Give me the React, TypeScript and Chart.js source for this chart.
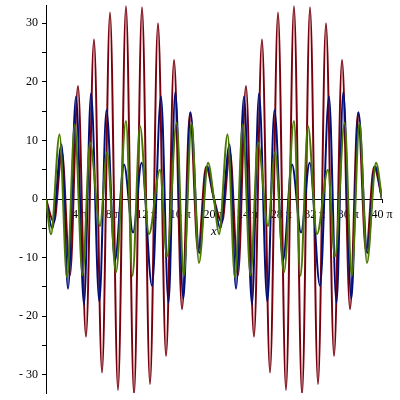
import { useEffect, useRef } from 'react';
import { Chart, registerables } from 'chart.js';

Chart.register(...registerables);

// x values are in units of π
const redX = [0, 0.95, 1.9, 2.86, 3.81, 4.76, 5.71, 6.67, 7.62, 8.57, 9.52, 10.48, 11.43, 12.38, 13.33, 14.29, 15.24, 16.19, 17.14, 18.1, 19.05, 20,
  20.95, 21.9, 22.86, 23.81, 24.76, 25.71, 26.67, 27.62, 28.57, 29.52, 30.48, 31.43, 32.38, 33.33, 34.29, 35.24, 36.19, 37.14, 38.1, 39.05, 40];
const redY = [0, -4, 8, -13, 19.3, -23.5, 27.2, -29.6, 31.8, -32.6, 32.9, -33.4, 32.7, -31.6, 30, -26.8, 23.7, -18.8, 14.7, -9, 5.5, 0,
  -4, 8, -13, 19.3, -23.5, 27.2, -29.6, 31.8, -32.6, 32.9, -33.4, 32.7, -31.6, 30, -26.8, 23.7, -18.8, 14.7, -9, 5.5, 0];

const blueX = [0, 0.75, 1.85, 2.62, 3.57, 4.52, 5.36, 6.35, 7.2, 8.21, 9.29, 10.36, 11.39, 12.62, 13.69, 14.58, 15.39, 16.35, 17.2, 18.25, 19.17, 20,
  20.75, 21.85, 22.62, 23.57, 24.52, 25.36, 26.35, 27.2, 28.21, 29.29, 30.36, 31.39, 32.62, 33.69, 34.58, 35.39, 36.35, 37.2, 38.25, 39.17, 40];
const blueY = [0, -5, 9.3, -15.3, 17.5, -18, 18, -17.5, 15.2, -10.5, 5.9, -5.7, 6.2, -14.8, 17.5, -17.7, 18.2, -17, 14.8, -9.2, 5.6, 0,
  -5, 9.3, -15.3, 17.5, -18, 18, -17.5, 15.2, -10.5, 5.9, -5.7, 6.2, -14.8, 17.5, -17.7, 18.2, -17, 14.8, -9.2, 5.6, 0];

const greenX = [0, 0.6, 1.61, 2.5, 3.42, 4.35, 5.24, 6.43, 7.26, 8.33, 9.52, 10.3, 11.19, 12.26, 13.57, 14.4, 15.55, 16.4, 17.32, 18.21, 19.29, 20,
  20.6, 21.61, 22.5, 23.42, 24.35, 25.24, 26.43, 27.26, 28.33, 29.52, 30.3, 31.19, 32.26, 33.57, 34.4, 35.55, 36.4, 37.32, 38.21, 39.29, 40];
const greenY = [0, -6, 11, -13.4, 12.7, -13, 9.6, -4.6, 8, -12.5, 13.3, -13.1, 12.4, -6, 5, -9.8, 13, -13.1, 13, -10.9, 6.2, 0,
  -6, 11, -13.4, 12.7, -13, 9.6, -4.6, 8, -12.5, 13.3, -13.1, 12.4, -6, 5, -9.8, 13, -13.1, 13, -10.9, 6.2, 0];

const xTickValues = [4, 8, 12, 16, 20, 24, 28, 32, 36, 40];
const xTickLabels = ['4 π', '8 π', '12 π', '16 π', '20 π', '24 π', '28 π', '32 π', '36 π', '40 π'];
const yTickValues = [-30, -25, -20, -15, -10, -5, 0, 5, 10, 15, 20, 25, 30];
const yTickLabels = ['- 30', '', '- 20', '', '- 10', '', '0', '', '10', '', '20', '', '30'];

const toPoints = (xs: number[], ys: number[]) => xs.map((x, i) => ({ x, y: ys[i] }));

export default function App() {
  const ref = useRef<HTMLCanvasElement | null>(null);
  useEffect(() => {
    if (!ref.current) return;
    const font = { family: "'Liberation Serif', 'DejaVu Serif', serif", size: 12 };
    const chart = new Chart(ref.current, {
      type: 'line',
      data: {
        datasets: [
          { data: toPoints(redX, redY), borderColor: '#78000E', order: 2 },
          { data: toPoints(blueX, blueY), borderColor: '#000E78', order: 1 },
          { data: toPoints(greenX, greenY), borderColor: '#4A7800', order: 0 },
        ],
      },
      options: {
        animation: false,
        responsive: false,
        maintainAspectRatio: false,
        layout: { padding: { top: 5, bottom: 7, left: 0, right: 18 } },
        plugins: { legend: { display: false }, tooltip: { enabled: false } },
        elements: {
          point: { radius: 0 },
          line: { borderWidth: 2, cubicInterpolationMode: 'monotone', fill: false },
        },
        scales: {
          x: {
            type: 'linear',
            min: 0,
            max: 40,
            position: { y: 0 } as any,
            grid: { drawOnChartArea: false, tickLength: 3, color: '#000' },
            border: { display: true, color: '#000', width: 1 },
            afterBuildTicks: (s: any) => { s.ticks = xTickValues.map((v) => ({ value: v })); },
            ticks: {
              autoSkip: false,
              maxRotation: 0,
              padding: 6,
              color: '#000',
              font,
              callback: (_v: any, i: number) => xTickLabels[i],
            },
            title: {
              display: true,
              text: 'x',
              color: '#000',
              font: { family: "'Liberation Serif', serif", size: 13, style: 'italic' },
              padding: { top: 0, bottom: 0 },
            },
            afterFit: (s: any) => { s.height = 40; s.paddingLeft = 0; s.paddingRight = 0; },
          },
          y: {
            type: 'linear',
            min: -33.1,
            max: 33.1,
            position: 'left',
            grid: { drawOnChartArea: false, tickLength: 4, color: '#000' },
            border: { display: true, color: '#000', width: 1 },
            afterBuildTicks: (s: any) => { s.ticks = yTickValues.map((v) => ({ value: v })); },
            ticks: {
              autoSkip: false,
              padding: 4,
              color: '#000',
              font,
              callback: (_v: any, i: number) => yTickLabels[i],
            },
            afterFit: (s: any) => { s.width = 46; s.paddingTop = 0; s.paddingBottom = 0; },
          },
        },
      } as any,
    });
    return () => chart.destroy();
  }, []);
  return (
    <div style={{ position: 'fixed', left: 0, top: 0, width: 400, height: 400, background: '#fff' }}>
      <canvas ref={ref} width={400} height={400} />
    </div>
  );
}
